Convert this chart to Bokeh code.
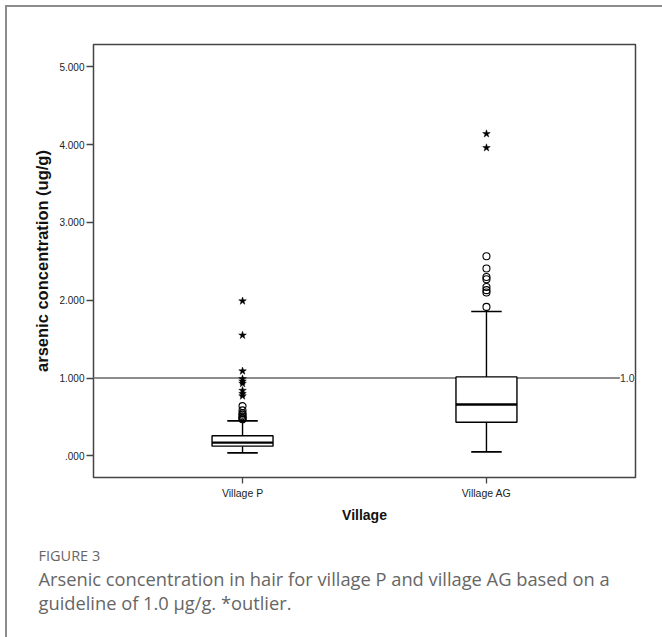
from bokeh.plotting import figure
from bokeh.models import Range1d, FixedTicker, Span, Label, ColumnDataSource, Title
from bokeh.embed import file_html
from bokeh.resources import INLINE

# ---------------- data ----------------
CATEGORIES = ["Village P", "Village AG"]
LOWER_WHISKER = [0.039, 0.051]
Q1 = [0.125, 0.433]
MEDIAN = [0.17, 0.66]
Q3 = [0.258, 1.015]
UPPER_WHISKER = [0.45, 1.856]

# mild outliers (circles) and extreme outliers (stars)
OUT_P = [0.64, 0.585, 0.55, 0.53, 0.51, 0.49, 0.48, 0.47]
EXT_P = [1.99, 1.55, 1.09, 0.99, 0.96, 0.93, 0.84, 0.80, 0.77]
OUT_AG = [2.567, 2.409, 2.30, 2.27, 2.17, 2.13, 2.10, 1.915]
EXT_AG = [4.14, 3.96]

GUIDELINE = 1.0
Y_TICKS = [0, 1, 2, 3, 4, 5]
Y_TICK_LABELS = [".000", "1.000", "2.000", "3.000", "4.000", "5.000"]

CAPTION_HEAD = "FIGURE 3"
CAPTION_LINES = [
    "Arsenic concentration in hair for village P and village AG based on a",
    "guideline of 1.0 \u00b5g/g. *outlier.",
]

# ---------------- figure ----------------
XPOS = [i + 1 for i in range(len(CATEGORIES))]
BOX_W = 0.25
CAP_W = 0.125

p = figure(width=662, height=637, output_backend="svg", toolbar_location=None,
           x_range=Range1d(0.389, 2.611), y_range=Range1d(-0.278, 5.288),
           min_border_left=93, min_border_right=27, min_border_top=44,
           min_border_bottom=160)
# card border on the left and top edges
p.styles = {"box-shadow": "inset 5px 5px 0 0 #ffffff, inset 7px 7px 0 0 #8c8c8c"}
p.background_fill_color = "white"
p.border_fill_alpha = 0.0
p.grid.visible = False
p.outline_line_color = "#444444"
p.outline_line_width = 1.5
p.outline_line_alpha = 1.0

AX_FONT = "Liberation Sans"

# y axis
p.yaxis.ticker = FixedTicker(ticks=Y_TICKS)
p.yaxis.major_label_overrides = {t: l for t, l in zip(Y_TICKS, Y_TICK_LABELS)}
p.yaxis.minor_tick_line_color = None
p.yaxis.axis_line_color = None
p.yaxis.major_tick_out = 7
p.yaxis.major_tick_in = 0
p.yaxis.major_tick_line_color = "#444444"
p.yaxis.major_tick_line_width = 1.3
p.yaxis.major_label_text_font = AX_FONT
p.yaxis.major_label_text_font_size = "10px"
p.yaxis.major_label_text_color = "#222222"
p.yaxis.major_label_standoff = 2
p.yaxis.axis_label = "arsenic concentration (ug/g)"
p.yaxis.axis_label_text_font = AX_FONT
p.yaxis.axis_label_text_font_style = "bold"
p.yaxis.axis_label_text_font_size = "16.5px"
p.yaxis.axis_label_text_color = "#111111"
p.yaxis.axis_label_standoff = 5

# x axis
p.xaxis.ticker = FixedTicker(ticks=XPOS)
p.xaxis.major_label_overrides = {x: c for x, c in zip(XPOS, CATEGORIES)}
p.xaxis.minor_tick_line_color = None
p.xaxis.axis_line_color = None
p.xaxis.major_tick_out = 6
p.xaxis.major_tick_in = 0
p.xaxis.major_tick_line_color = "#444444"
p.xaxis.major_tick_line_width = 1.3
p.xaxis.major_label_text_font = AX_FONT
p.xaxis.major_label_text_font_size = "10.5px"
p.xaxis.major_label_text_color = "#222222"
p.xaxis.major_label_standoff = 3
p.xaxis.axis_label = "Village"
p.xaxis.axis_label_text_font = AX_FONT
p.xaxis.axis_label_text_font_style = "bold"
p.xaxis.axis_label_text_font_size = "14px"
p.xaxis.axis_label_text_color = "#111111"
p.xaxis.axis_label_standoff = 5

# guideline
p.add_layout(Span(location=GUIDELINE, dimension="width", line_color="#8c8c8c",
                  line_width=2, level="underlay"))

# boxes
src = ColumnDataSource(dict(
    x=XPOS, lw=LOWER_WHISKER, q1=Q1, med=MEDIAN, q3=Q3, uw=UPPER_WHISKER,
    cl=[x - CAP_W / 2 for x in XPOS], cr=[x + CAP_W / 2 for x in XPOS],
    bl=[x - BOX_W / 2 for x in XPOS], br=[x + BOX_W / 2 for x in XPOS],
))
p.segment(x0="x", y0="q3", x1="x", y1="uw", source=src, line_color="black", line_width=1.4)
p.segment(x0="x", y0="q1", x1="x", y1="lw", source=src, line_color="black", line_width=1.4)
p.segment(x0="cl", y0="uw", x1="cr", y1="uw", source=src, line_color="black", line_width=1.6)
p.segment(x0="cl", y0="lw", x1="cr", y1="lw", source=src, line_color="black", line_width=1.6)
p.vbar(x="x", width=BOX_W, bottom="q1", top="q3", source=src, fill_color="white",
       line_color="black", line_width=1.4)
p.segment(x0="bl", y0="med", x1="br", y1="med", source=src, line_color="black", line_width=2.4)

# outliers
out_x = [XPOS[0]] * len(OUT_P) + [XPOS[1]] * len(OUT_AG)
out_y = OUT_P + OUT_AG
ext_x = [XPOS[0]] * len(EXT_P) + [XPOS[1]] * len(EXT_AG)
ext_y = EXT_P + EXT_AG
p.scatter(out_x, out_y, marker="circle", size=7, fill_color=None,
          line_color="black", line_width=1.1)
p.scatter(ext_x, ext_y, marker="star", size=8, fill_color="black",
          line_color="black", line_width=0.5)

# guideline label
p.add_layout(Label(x=p.x_range.end, y=GUIDELINE, text="1.0", text_align="right",
                   text_baseline="middle", x_offset=-1, text_font=AX_FONT,
                   text_font_size="10.5px", text_color="#333333",
                   background_fill_color="white", background_fill_alpha=1.0))

# caption (stacked titles below the x axis; the first one is a blank spacer)
CAP_FONT = "Open Sans"
p.add_layout(Title(text=" ", align="left", standoff=13, text_font=CAP_FONT,
                   text_font_size="2px", text_color="#ffffff"), "below")
p.add_layout(Title(text=CAPTION_HEAD, align="left", offset=-55, standoff=0,
                   text_font=CAP_FONT, text_font_size="14.5px", text_color="#666666",
                   text_font_style="normal"), "below")
p.add_layout(Title(text="\n".join(CAPTION_LINES), align="left", offset=-55, standoff=0,
                   text_font=CAP_FONT, text_font_size="18.3px", text_color="#666666",
                   text_font_style="normal", text_line_height=0.93), "below")

open("out.html", "w").write(file_html(p, INLINE))
